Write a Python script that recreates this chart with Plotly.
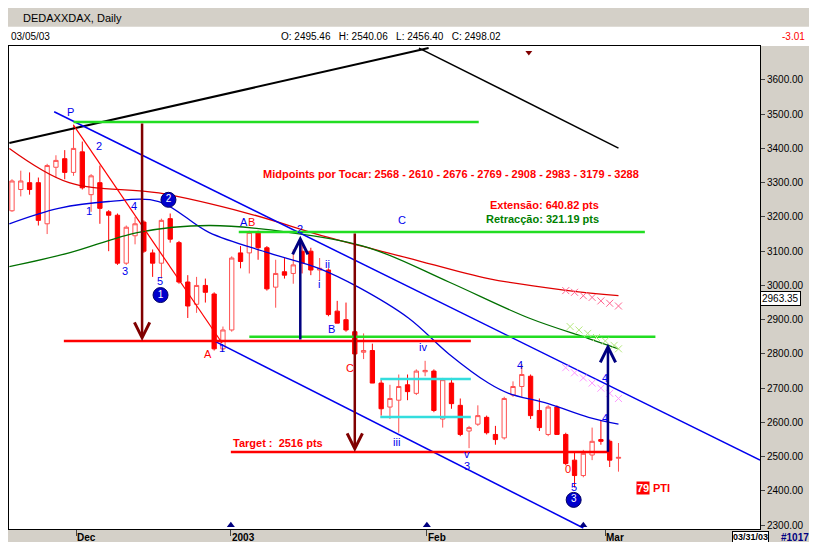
import plotly.graph_objects as go

# daily DAX candles, Nov 2002 - Mar 5 2003 (bar index 0..69)
opens = [3218, 3280, 3300, 3300, 3180, 3345, 3370, 3330, 3390, 3265, 3300, 3215, 3205, 3065, 3145, 3185, 3095, 3065, 3195, 3125,
         3010, 2945, 3000, 2975, 2815, 2870, 3095, 3095, 3155, 3110, 2995, 3040, 3035, 3100, 3100, 3045, 3045, 2925, 2900, 2865,
         2805, 2810, 2715, 2645, 2665, 2710, 2685, 2748, 2750, 2610, 2715, 2650, 2575, 2595, 2615, 2565, 2555, 2680, 2705, 2735,
         2635, 2565, 2645, 2565, 2490, 2445, 2505, 2550, 2545, 2495.46]
highs = [3310, 3335, 3330, 3315, 3355, 3380, 3395, 3470, 3420, 3325, 3350, 3220, 3210, 3175, 3200, 3190, 3105, 3195, 3210, 3130,
         3030, 3025, 3020, 2980, 2880, 3085, 3115, 3160, 3160, 3115, 3075, 3080, 3105, 3130, 3110, 3080, 3050, 2955, 2950, 2870,
         2860, 2830, 2725, 2710, 2740, 2740, 2755, 2780, 2755, 2730, 2730, 2670, 2590, 2650, 2620, 2590, 2675, 2720, 2770, 2740,
         2670, 2650, 2650, 2570, 2515, 2520, 2585, 2605, 2550, 2540.06]
lows = [3215, 3260, 3265, 3175, 3150, 3315, 3310, 3320, 3280, 3215, 3180, 3100, 3060, 3060, 3120, 3095, 3025, 3020, 3125, 3005,
        2905, 2920, 2950, 2810, 2810, 2865, 3050, 3035, 3075, 2985, 2935, 3020, 3005, 3035, 3030, 3015, 2910, 2890, 2865, 2795,
        2785, 2715, 2620, 2610, 2570, 2665, 2680, 2735, 2630, 2585, 2640, 2560, 2525, 2590, 2565, 2535, 2550, 2675, 2675, 2610,
        2575, 2560, 2565, 2475, 2410, 2440, 2490, 2535, 2470, 2456.40]
closes = [3305, 3305, 3280, 3190, 3350, 3365, 3330, 3400, 3285, 3320, 3225, 3205, 3065, 3170, 3180, 3100, 3065, 3190, 3135, 3010,
          2940, 3000, 2980, 2815, 2870, 3080, 3070, 3155, 3110, 2990, 3035, 3030, 3060, 3065, 3045, 3050, 2915, 2890, 2870, 2800,
          2810, 2715, 2640, 2670, 2705, 2690, 2750, 2752, 2635, 2725, 2655, 2565, 2585, 2620, 2570, 2550, 2670, 2705, 2740, 2620,
          2585, 2645, 2565, 2480, 2445, 2510, 2545, 2545, 2490, 2498.02]
bars = list(range(len(opens)))

# moving averages (at a few bars)
ma_red_x = [-0.3, 6.5, 16.7, 26.9, 36, 45.1, 54.2, 63.3, 69]
ma_red_y = [3400, 3300, 3270, 3210, 3140, 3080, 3020, 2985, 2970]
ma_blue_x = [-0.3, 5.3, 11, 16.7, 22.4, 29.2, 34.9, 39.4, 45.1, 49.7, 54.2, 56.5, 61, 65.6, 69]
ma_blue_y = [3180, 3225, 3245, 3245, 3155, 3095, 3050, 2995, 2905, 2800, 2715, 2685, 2655, 2615, 2595]
ma_green_x = [-0.3, 6.5, 14.4, 22.4, 31.5, 40.6, 49.7, 58.8, 65.6, 69]
ma_green_y = [3055, 3095, 3155, 3175, 3155, 3110, 3010, 2905, 2845, 2815]

month_pos = [7.3, 24.9, 47.2, 67.5]
month_lbl = ["Dec", "2003", "Feb", "Mar"]
price_ticks = list(range(2300, 3700, 100))

BLUE = "#0000ee"
RED = "#ff0000"
FONT = "Liberation Sans"
fig = go.Figure()

fig.add_trace(go.Candlestick(
    x=bars, open=opens, high=highs, low=lows, close=closes,
    increasing=dict(line=dict(color="#ff5050", width=1), fillcolor="white"),
    decreasing=dict(line=dict(color=RED, width=1), fillcolor=RED),
    whiskerwidth=0, showlegend=False, hoverinfo="skip"))

fig.add_trace(go.Scatter(x=ma_red_x, y=ma_red_y, mode="lines", line=dict(color="#e00000", width=1.3, shape="spline")))
fig.add_trace(go.Scatter(x=ma_blue_x, y=ma_blue_y, mode="lines", line=dict(color="#0000dd", width=1.3, shape="spline")))
fig.add_trace(go.Scatter(x=ma_green_x, y=ma_green_y, mode="lines", line=dict(color="#007000", width=1.3, shape="spline")))

def seg(x0, y0, x1, y1, color, width=1.5):
    fig.add_trace(go.Scatter(x=[x0, x1], y=[y0, y1], mode="lines", line=dict(color=color, width=width)))

# trend lines
seg(-0.3, 3416, 47.4, 3693, "black", 2)
seg(46.3, 3693, 69, 3401, "black", 1.5)
seg(4.8, 3507, 85.1, 2490, BLUE)
seg(23, 2838, 65, 2292, BLUE)
seg(7, 3468, 23.9, 2832, RED, 1.2)
# horizontal levels
seg(7, 3477, 53.1, 3477, "#22dd22", 2.5)
seg(25.8, 3156, 72, 3156, "#22dd22", 2.5)
seg(27, 2850, 73.2, 2850, "#22dd22", 2.5)
seg(5.9, 2838, 52.2, 2838, RED, 2.5)
seg(24.9, 2514, 68, 2514, RED, 2.5)
seg(41.9, 2727, 52.2, 2727, "#33dddd", 2.5)
seg(41.9, 2616, 52.2, 2616, "#33dddd", 2.5)

# x marks
fig.add_trace(go.Scatter(x=[63, 64, 65, 66, 67, 68, 69], y=[2985, 2980, 2970, 2965, 2955, 2948, 2940], mode="markers",
                         marker=dict(symbol="x-thin-open", size=7, line=dict(color="#ff4040", width=1))))
fig.add_trace(go.Scatter(x=[63.5, 64.5, 65.5, 66.5, 67.5, 68.5, 69], y=[2880, 2870, 2860, 2848, 2838, 2825, 2815], mode="markers",
                         marker=dict(symbol="x-thin-open", size=7, line=dict(color="#44dd44", width=1))))
fig.add_trace(go.Scatter(x=[63, 64, 65, 66, 67, 68, 69], y=[2760, 2745, 2730, 2715, 2700, 2685, 2670], mode="markers",
                         marker=dict(symbol="x-thin-open", size=7, line=dict(color="#4040ff", width=1))))
# edge triangles
fig.add_trace(go.Scatter(x=[24.9, 47.2, 65], y=[2300, 2300, 2300], mode="markers",
                         marker=dict(symbol="triangle-up", size=7, color="#000080")))
fig.add_trace(go.Scatter(x=[58.8], y=[3680], mode="markers", marker=dict(symbol="triangle-down", size=6, color="#800000")))

def arrow(x, y0, y1, color):
    fig.add_annotation(x=x, y=y1, ax=x, ay=y0, xref="x", yref="y", axref="x", ayref="y", text="", showarrow=True,
                       arrowhead=5, arrowsize=1.2, arrowwidth=2.5, arrowcolor=color)

arrow(14.8, 3477, 2838, "#800000")
arrow(39, 3156, 2514, "#800000")
arrow(32.8, 2838, 3145, "#000080")
arrow(67.8, 2510, 2830, "#000080")

def lbl(x, y, t, color=BLUE, size=11):
    fig.add_annotation(x=x, y=y, text=t, showarrow=False, font=dict(color=color, size=size, family=FONT))

for x, y, t in [(6.7, 3505, "P"), (9.9, 3407, "2"), (8.75, 3217, "1"), (13.9, 3232, "4"), (12.8, 3042, "3"), (16.8, 3013, "5"),
                (26.4, 3185, "A"), (32.8, 3165, "2"), (35.9, 3063, "ii"), (34.9, 3004, "i"), (36.4, 2873, "B"),
                (44.4, 3191, "C"), (23.9, 2817, "1"), (46.8, 2820, "iv"), (43.75, 2543, "iii"), (51.8, 2508, "v"),
                (51.8, 2472, "3"), (57.8, 2768, "4"), (63.9, 2412, "5"), (67.5, 2730, "4"), (67.5, 2613, "4")]:
    lbl(x, y, t)
for x, y, t in [(27.3, 3185, "B"), (22.3, 2800, "A"), (38.4, 2759, "C"), (63.2, 2465, "0")]:
    lbl(x, y, t, RED)

# circled wave numbers
circ_x = [16.9, 17.8, 63.9]
circ_y = [2972, 3250, 2374]
circ_t = ["1", "2", "3"]
fig.add_trace(go.Scatter(x=circ_x, y=circ_y, mode="markers+text", text=circ_t, textposition="middle center",
                         textfont=dict(color="white", size=10, family=FONT),
                         marker=dict(symbol="circle", size=15, color="#0000cc", line=dict(color="#000060", width=1))))

fig.add_annotation(x=49.9, y=3325, text="<b>Midpoints por Tocar: 2568 - 2610 - 2676 - 2769 - 2908 - 2983 - 3179 - 3288</b>",
                   showarrow=False, font=dict(color=RED, size=11, family=FONT))
fig.add_annotation(x=67, y=3235, text="<b>Extensão: 640.82 pts</b>", xanchor="right", showarrow=False,
                   font=dict(color=RED, size=11, family=FONT))
fig.add_annotation(x=67, y=3194, text="<b>Retracção: 321.19 pts</b>", xanchor="right", showarrow=False,
                   font=dict(color="#008000", size=11, family=FONT))
fig.add_annotation(x=24.9, y=2540, text="<b>Target :  2516 pts</b>", xanchor="left", showarrow=False,
                   font=dict(color=RED, size=11, family=FONT))
fig.add_annotation(x=71, y=2408, text="<b>79</b>", xanchor="left", showarrow=False, bgcolor=RED, borderpad=0,
                   font=dict(color="white", size=11, family=FONT))
fig.add_annotation(x=71, y=2408, text="<b>PTI</b>", xanchor="left", showarrow=False, xshift=15,
                   font=dict(color=RED, size=11, family=FONT))

# window chrome
fig.add_shape(type="rect", xref="paper", yref="paper", x0=-0.01, x1=1.1, y0=1.0, y1=1.04, fillcolor="white",
              line=dict(width=0), layer="below")
fig.add_annotation(xref="paper", yref="paper", x=0, y=1.075, text="DEDAXXDAX, Daily", xanchor="left", showarrow=False,
                   font=dict(size=11, color="black", family=FONT), xshift=12)
fig.add_annotation(xref="paper", yref="paper", x=0, y=1.035, text="03/05/03", xanchor="left", showarrow=False,
                   font=dict(size=10, color="black", family=FONT))
fig.add_annotation(xref="paper", yref="paper", x=0.36, y=1.035, xanchor="left", showarrow=False,
                   text="O: 2495.46&nbsp;&nbsp; H: 2540.06&nbsp;&nbsp; L: 2456.40&nbsp;&nbsp; C: 2498.02",
                   font=dict(size=10, color="black", family=FONT))
fig.add_annotation(xref="paper", yref="paper", x=1.062, y=1.035, text="-3.01", xanchor="right", showarrow=False,
                   font=dict(size=10, color=RED, family=FONT))
fig.add_annotation(xref="paper", y=2963.35, x=1.0, yref="y", text="2963.35", xanchor="left", showarrow=False,
                   bgcolor="white", bordercolor="black", borderwidth=1, borderpad=1,
                   font=dict(size=10, color="black", family=FONT))
for p, t in zip(month_pos, month_lbl):
    fig.add_annotation(x=p, xref="x", yref="paper", y=0, yshift=-2, text="<b>" + t + "</b>", xanchor="left",
                       yanchor="top", showarrow=False, borderpad=0, font=dict(size=10, color="black", family=FONT))
fig.add_annotation(xref="paper", yref="paper", x=1.012, y=0, yshift=-2, text="<b>03/31/03</b>", xanchor="right",
                   yanchor="top", showarrow=False, bgcolor="white", bordercolor="black", borderwidth=1, borderpad=0,
                   font=dict(size=9, color="black", family=FONT))
fig.add_annotation(xref="paper", yref="paper", x=1.066, y=0, yshift=-2, text="<b>#1017</b>", xanchor="right",
                   yanchor="top", showarrow=False, borderpad=0, font=dict(size=10, color="#000080", family=FONT))

fig.update_layout(
    width=817, height=542, margin=dict(l=1, r=65, t=38, b=21),
    paper_bgcolor="#d4d0c8", plot_bgcolor="white", showlegend=False,
    xaxis=dict(range=[-0.34, 85.1], tickvals=month_pos, ticktext=[""] * 4, ticks="outside", ticklen=6,
               showgrid=False, zeroline=False, rangeslider=dict(visible=False), showline=True, linecolor="black",
               mirror=True, fixedrange=True),
    yaxis=dict(range=[2289, 3699], side="right", tickvals=price_ticks, ticktext=[f"{v:.2f}" for v in price_ticks],
               ticks="outside", ticklen=4, showgrid=False, zeroline=False, showline=True, linecolor="black", mirror=True,
               tickfont=dict(size=10, color="black", family=FONT)),
)
fig.write_html("out.html")
